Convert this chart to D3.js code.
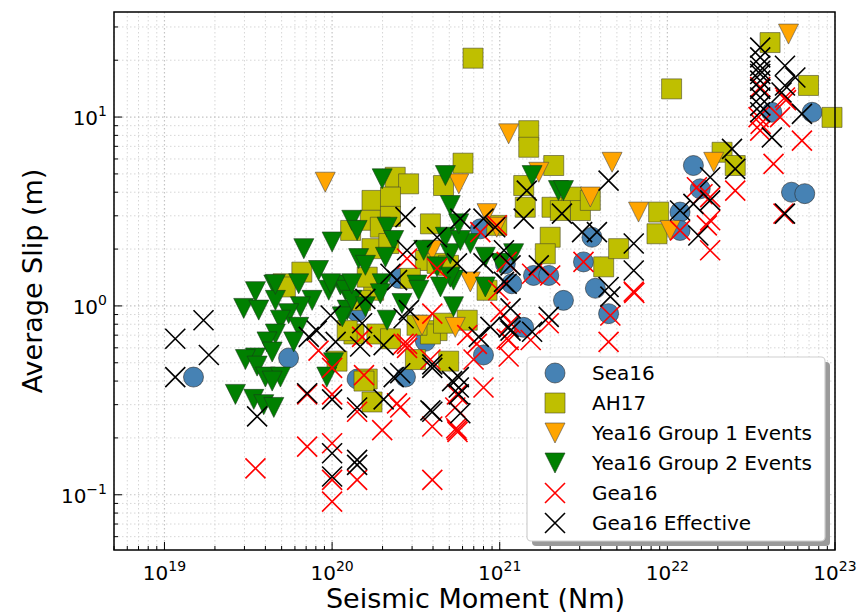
<!DOCTYPE html>
<html>
<head>
<meta charset="utf-8">
<script src="https://cdn.jsdelivr.net/npm/d3@7"></script>
<style>
  body { margin: 0; background: #fff; }
  svg { font-family: "DejaVu Sans", sans-serif; }
</style>
</head>
<body>
<div class="canvas"></div>
<script>
// [seismic moment (Nm), average slip (m)]
const sea16 = [
  [1.49e19, 0.42], [5.5e19, 0.53], [1.41e20, 0.41], [1.41e20, 0.93], [2.5e20, 1.40],
  [2.74e20, 0.42], [3.6e20, 0.65], [7.66e20, 2.56], [8.0e20, 0.55], [1.08e21, 1.67],
  [1.18e21, 1.31], [1.39e21, 0.77], [1.59e21, 1.45], [1.96e21, 1.45], [2.4e21, 1.07],
  [3.16e21, 1.71], [3.55e21, 2.31], [3.72e21, 1.24], [4.46e21, 0.91], [1.19e22, 3.14],
  [1.19e22, 2.51], [1.43e22, 5.54], [1.57e22, 4.17], [4.2e22, 10.6], [5.5e22, 4.0],
  [6.6e22, 3.93], [7.3e22, 10.6]
];

const ah17 = [
  [6.93e20, 20.5], [6.04e20, 5.7], [2.38e20, 4.8], [2.86e20, 4.43], [4.62e20, 4.34],
  [1.73e20, 3.62], [2.23e20, 3.77], [3.86e20, 2.72], [1.29e20, 2.51], [1.73e20, 2.01],
  [6.6e19, 1.51], [5.1e19, 1.31], [2.23e20, 2.98], [9.6e20, 2.67], [1.49e21, 8.47],
  [1.49e21, 6.92], [2.1e21, 5.54], [1.39e21, 4.34], [1.42e21, 3.33], [2.05e21, 3.33],
  [2.7e21, 3.77], [3.03e21, 3.2], [3.47e21, 3.62], [2.3e21, 3.2], [2.0e21, 2.31],
  [1.87e21, 1.89], [4.17e21, 1.61], [5.12e21, 2.01], [8.87e21, 3.14], [8.67e21, 2.41],
  [1.06e22, 14.1], [4.1e22, 24.8], [6.95e22, 14.7], [9.6e22, 9.96], [2.12e22, 6.51],
  [2.54e22, 5.54], [1.77e20, 1.21], [3.14e20, 0.52], [4.96e20, 0.51], [1.62e20, 0.41],
  [1.73e20, 0.31], [4.23e20, 0.74], [5.26e19, 1.26], [1.35e20, 0.71], [1.07e20, 0.51],
  [1.23e20, 0.74], [3.86e20, 0.71], [6.4e20, 0.84], [8.4e20, 1.21], [1.69e20, 2.84],
  [1.94e20, 2.61], [2.18e20, 2.14], [3.6e20, 1.74], [4.23e20, 1.68], [4.95e20, 1.64],
  [2.93e20, 1.40], [1.48e20, 1.07], [1.85e20, 0.71], [2.23e20, 0.67], [3.21e20, 0.79],
  [4.62e20, 0.81], [1.55e20, 0.40], [1.62e20, 1.42]
];

const yea16g1 = [
  [9.1e19, 4.52], [5.7e20, 4.43], [1.13e21, 8.15], [1.71e21, 5.1], [4.68e21, 5.76],
  [3.47e21, 3.77], [6.73e21, 3.14], [1.04e22, 2.51], [1.89e22, 5.76], [5.28e22, 27.5],
  [8.4e20, 3.08], [9.6e20, 2.61], [3.96e20, 1.97], [6.68e20, 1.34], [3.44e20, 0.79],
  [5.43e20, 0.77]
];

const yea16g2 = [
  [1.99e20, 4.71], [4.74e20, 4.9], [5.07e20, 3.4], [1.31e20, 2.84], [1.41e20, 2.51],
  [2.13e20, 2.61], [1.0e20, 2.18], [6.78e19, 2.01], [1.44e20, 1.78], [2.33e20, 2.22],
  [8.3e19, 1.54], [4.49e19, 1.29], [6.32e19, 1.31], [1.12e20, 1.29], [1.99e20, 1.31],
  [3.52e20, 1.97], [5.07e20, 1.89], [6.68e20, 2.14], [8.2e20, 1.81], [3.21e20, 1.29],
  [5.3e20, 1.37], [3.49e19, 1.19], [1.56e21, 4.9], [2.24e21, 4.08], [2.4e21, 4.08],
  [1.21e21, 1.89], [2.08e20, 1.81], [4.74e20, 2.31], [5.82e20, 2.22], [5.07e20, 1.42],
  [4.23e20, 1.61], [1.58e20, 1.64], [5.69e20, 2.72], [1.01e21, 1.68], [2.97e19, 0.97],
  [3.65e19, 0.95], [4.59e19, 1.07], [7.6e19, 1.07], [9.55e19, 1.21], [1.2e20, 1.21],
  [6.47e19, 0.99], [5.51e19, 0.91], [1.23e20, 0.95], [4.92e19, 0.84], [6.32e19, 0.77],
  [4.59e19, 0.71], [5.9e19, 0.645], [4.09e19, 0.645], [4.39e19, 0.57], [3.49e19, 0.53],
  [3.04e19, 0.52], [3.57e19, 0.48], [4.0e19, 0.42], [4.92e19, 0.42], [4.39e19, 0.40],
  [9.3e19, 0.42], [1.02e20, 0.50], [2.65e19, 0.34], [3.41e19, 0.32], [3.91e19, 0.30],
  [4.49e19, 0.29], [1.15e20, 0.875], [1.31e20, 1.07], [9.8e19, 1.31], [1.31e20, 1.31],
  [1.94e20, 1.16], [2.61e20, 1.03], [2.13e20, 0.84], [3.29e20, 1.21], [4.43e20, 1.26],
  [5.3e20, 0.99], [8.2e20, 1.26], [1.58e20, 0.99], [4.59e19, 1.30]
];

const gea16 = [
  [3.49e19, 0.138], [7.1e19, 0.18], [1.0e20, 0.1875], [1.0e20, 0.12], [1.0e20, 0.092],
  [1.41e20, 0.12], [3.96e20, 0.12], [1.99e20, 0.22], [3.96e20, 0.23], [5.56e20, 0.22],
  [5.6e20, 0.215], [5.5e20, 0.225], [7.1e19, 0.34], [1.41e20, 0.275], [2.55e20, 0.29],
  [8.0e20, 0.37], [1.13e21, 0.54], [1.13e21, 0.66], [1.0e20, 0.47], [8.3e19, 0.58],
  [1.55e20, 0.43], [3.86e20, 0.52], [5.56e20, 0.34], [6.98e20, 0.52], [2.67e20, 0.63],
  [1.0e20, 0.34], [1.51e20, 0.686], [2.8e20, 0.63], [2.8e20, 0.60], [2.44e20, 0.305],
  [5.43e20, 0.29], [1.01e21, 0.93], [3.96e20, 0.91], [7.3e20, 0.63], [6.4e20, 0.70],
  [2.8e20, 1.78], [4.23e20, 1.58], [7.66e20, 2.46], [9.6e20, 2.67], [1.1e21, 1.71],
  [9.8e20, 1.21], [1.56e21, 1.48], [2.0e21, 1.45], [1.16e21, 0.81], [1.1e21, 0.67],
  [1.53e21, 0.66], [1.96e21, 0.81], [3.16e21, 1.71], [4.57e21, 0.89], [4.46e21, 0.645],
  [6.3e21, 1.19], [6.35e21, 1.17], [1.5e22, 4.25], [1.8e22, 3.77], [2.54e22, 4.08],
  [1.8e22, 2.84], [1.8e22, 1.97], [1.19e22, 2.51], [3.58e22, 8.47], [3.58e22, 14.4],
  [5.03e22, 12.7], [5.1e22, 12.3], [4.7e22, 10.0], [6.35e22, 7.5], [4.3e22, 5.65],
  [4.93e22, 3.08], [3.5e22, 10.0], [3.6e22, 9.2], [1.62e22, 3.9], [1.72e22, 2.67]
];

const gea16eff = [
  [1.16e19, 0.67], [1.71e19, 0.84], [1.84e19, 0.55], [1.16e19, 0.42], [3.57e19, 0.26],
  [7.1e19, 0.345], [1.0e20, 0.32], [1.41e20, 0.29], [1.0e20, 0.166], [1.0e20, 0.125],
  [1.41e20, 0.153], [1.41e20, 0.144], [3.96e20, 0.275], [5.82e20, 0.27], [5.7e20, 0.37],
  [5.7e20, 0.42], [3.96e20, 0.47], [2.55e20, 0.44], [2.03e20, 0.32], [1.13e21, 0.77],
  [9.8e19, 0.89], [8.1e19, 0.74], [7.26e19, 0.686], [1.05e20, 0.645], [1.51e20, 0.81],
  [1.47e20, 0.61], [1.58e20, 1.09], [2.03e20, 0.62], [2.67e20, 0.86], [2.87e20, 0.95],
  [3.96e20, 0.49], [5.2e20, 0.40], [5.7e20, 0.34], [7.5e20, 0.686], [8.8e20, 0.775],
  [3.86e20, 0.28], [2.33e20, 0.42], [1.1e21, 1.31], [2.74e20, 2.95], [5.82e20, 2.9],
  [8.0e20, 2.9], [9.4e20, 2.61], [4.23e20, 2.31], [2.8e20, 1.97], [5.56e20, 1.68],
  [8.0e20, 1.68], [2.44e20, 1.37], [1.45e21, 4.08], [1.39e21, 2.9], [4.46e21, 4.61],
  [2.35e21, 3.08], [3.1e21, 2.46], [3.8e21, 2.46], [6.3e21, 2.14], [6.3e21, 1.54],
  [4.46e21, 1.26], [4.57e21, 1.12], [1.06e21, 1.97], [1.16e21, 1.64], [1.06e21, 1.34],
  [1.71e21, 1.64], [1.96e21, 0.875], [1.16e21, 0.97], [1.16e21, 0.74], [1.56e21, 0.73],
  [1.19e22, 3.2], [1.43e22, 3.47], [1.8e22, 4.8], [2.43e22, 6.78], [2.54e22, 5.32],
  [1.8e22, 3.62], [1.53e22, 2.36], [3.58e22, 23.3], [3.58e22, 20.7], [3.58e22, 18.7],
  [3.58e22, 17.6], [3.58e22, 16.9], [3.58e22, 15.6], [3.58e22, 14.1], [3.58e22, 12.7],
  [3.58e22, 11.5], [3.58e22, 10.6], [5.03e22, 18.7], [5.03e22, 14.7], [4.8e22, 13.5],
  [4.2e22, 7.8], [6.35e22, 10.4], [5.03e22, 3.08], [2.23e20, 1.48], [5.8e22, 16.2]
];

const seriesNames = ["Sea16", "AH17", "Yea16 Group 1 Events", "Yea16 Group 2 Events", "Gea16", "Gea16 Effective"];
const xTickExps = [19, 20, 21, 22, 23];
const yTickExps = [-1, 0, 1];

const W = 865, H = 615;
const plot = { left: 114, right: 835, top: 12, bottom: 550 };

const x = d3.scaleLog().domain([5e18, 1e23]).range([plot.left, plot.right]);
const y = d3.scaleLog().domain([0.051, 36]).range([plot.bottom, plot.top]);

const svg = d3.select(".canvas").append("svg").attr("width", W).attr("height", H);

// grid, minor then major
const xMinor = [], yMinor = [];
for (let e = 18; e <= 22; e++) for (let m = 2; m <= 9; m++) {
  const v = m * Math.pow(10, e);
  if (v >= 5e18 && v <= 1e23) xMinor.push(v);
}
for (let e = -2; e <= 1; e++) for (let m = 2; m <= 9; m++) {
  const v = m * Math.pow(10, e);
  if (v >= 0.051 && v <= 36) yMinor.push(v);
}
const xMajor = xTickExps.map(e => Math.pow(10, e));
const yMajor = yTickExps.map(e => Math.pow(10, e));

const grid = svg.append("g").attr("fill", "none");
grid.selectAll(".gxm").data(xMinor).enter().append("line")
  .attr("x1", d => x(d)).attr("x2", d => x(d)).attr("y1", plot.top).attr("y2", plot.bottom)
  .attr("stroke", "#d6d6d6").attr("stroke-width", 1).attr("stroke-dasharray", "1.5,2.5");
grid.selectAll(".gym").data(yMinor).enter().append("line")
  .attr("y1", d => y(d)).attr("y2", d => y(d)).attr("x1", plot.left).attr("x2", plot.right)
  .attr("stroke", "#d6d6d6").attr("stroke-width", 1).attr("stroke-dasharray", "1.5,2.5");
grid.selectAll(".gxM").data(xMajor).enter().append("line")
  .attr("x1", d => x(d)).attr("x2", d => x(d)).attr("y1", plot.top).attr("y2", plot.bottom)
  .attr("stroke", "#c4c4c4").attr("stroke-width", 1.2).attr("stroke-dasharray", "1.5,2.5");
grid.selectAll(".gyM").data(yMajor).enter().append("line")
  .attr("y1", d => y(d)).attr("y2", d => y(d)).attr("x1", plot.left).attr("x2", plot.right)
  .attr("stroke", "#c4c4c4").attr("stroke-width", 1.2).attr("stroke-dasharray", "1.5,2.5");

// marker shapes
const S = 10;
const shapes = {
  circle: () => d3.symbol().type(d3.symbolCircle).size(Math.PI * S * S)(),
  square: () => `M${-S},${-S}H${S}V${S}H${-S}Z`,
  tri: () => `M${-S},${-S}L${S},${-S}L0,${S}Z`,
  cross: () => `M${-S},${-S}L${S},${S}M${-S},${S}L${S},${-S}`
};

const styles = [
  { data: sea16, shape: "circle", fill: "#4682B4", stroke: "#2a2a2a", sw: 0.6 },
  { data: ah17, shape: "square", fill: "#BFBF00", stroke: "#4a4a2a", sw: 0.6 },
  { data: yea16g1, shape: "tri", fill: "#FFA500", stroke: "#4a4a4a", sw: 0.6 },
  { data: yea16g2, shape: "tri", fill: "#008000", stroke: "#1a3a1a", sw: 0.6 },
  { data: gea16, shape: "cross", fill: "none", stroke: "#FF0000", sw: 1.6 },
  { data: gea16eff, shape: "cross", fill: "none", stroke: "#000000", sw: 1.6 }
];

const marks = svg.append("g");
styles.forEach(st => {
  marks.append("g").selectAll("path").data(st.data).enter().append("path")
    .attr("d", shapes[st.shape]())
    .attr("transform", d => `translate(${x(d[0])},${y(d[1])})`)
    .attr("fill", st.fill).attr("stroke", st.stroke).attr("stroke-width", st.sw);
});

// frame
svg.append("rect").attr("x", plot.left).attr("y", plot.top)
  .attr("width", plot.right - plot.left).attr("height", plot.bottom - plot.top)
  .attr("fill", "none").attr("stroke", "#000").attr("stroke-width", 1.5);

// ticks (inward)
const tk = svg.append("g").attr("stroke", "#000").attr("stroke-width", 1);
tk.selectAll(".xmin").data(xMinor).enter().append("line")
  .attr("x1", d => x(d)).attr("x2", d => x(d)).attr("y1", plot.bottom).attr("y2", plot.bottom - 4);
tk.selectAll(".xmaj").data(xMajor).enter().append("line")
  .attr("x1", d => x(d)).attr("x2", d => x(d)).attr("y1", plot.bottom).attr("y2", plot.bottom - 8);
tk.selectAll(".ymin").data(yMinor).enter().append("line")
  .attr("y1", d => y(d)).attr("y2", d => y(d)).attr("x1", plot.left).attr("x2", plot.left + 4);
tk.selectAll(".ymaj").data(yMajor).enter().append("line")
  .attr("y1", d => y(d)).attr("y2", d => y(d)).attr("x1", plot.left).attr("x2", plot.left + 8);

// tick labels
const xl = svg.append("g").selectAll("text").data(xTickExps).enter().append("text")
  .attr("x", d => x(Math.pow(10, d))).attr("y", 580)
  .attr("text-anchor", "middle").attr("font-size", 20).attr("fill", "#000");
xl.append("tspan").text("10");
xl.append("tspan").attr("dy", -9).attr("font-size", 14).text(d => d);

const yl = svg.append("g").selectAll("text").data(yTickExps).enter().append("text")
  .attr("x", 107).attr("y", d => y(Math.pow(10, d)) + 8)
  .attr("text-anchor", "end").attr("font-size", 20).attr("fill", "#000");
yl.append("tspan").text("10");
yl.append("tspan").attr("dy", -9).attr("font-size", 14).text(d => d < 0 ? "\u2212" + (-d) : d);

// axis labels
svg.append("text").attr("x", (plot.left + plot.right) / 2 + 1).attr("y", 608)
  .attr("text-anchor", "middle").attr("font-size", 27).text("Seismic Moment (Nm)");
svg.append("text").attr("transform", `translate(42,${(plot.top + plot.bottom) / 2}) rotate(-90)`)
  .attr("text-anchor", "middle").attr("font-size", 27).text("Average Slip (m)");

// legend
const lg = svg.append("g");
lg.append("rect").attr("x", 532).attr("y", 362).attr("width", 298).attr("height", 184)
  .attr("rx", 4).attr("fill", "#9a9a9a");
lg.append("rect").attr("x", 527).attr("y", 357).attr("width", 298).attr("height", 184)
  .attr("rx", 4).attr("fill", "#fff").attr("stroke", "#cfcfcf").attr("stroke-width", 1.2);
styles.forEach((st, i) => {
  const cy = 373 + i * 30;
  lg.append("path").attr("d", shapes[st.shape]())
    .attr("transform", `translate(555,${cy})`)
    .attr("fill", st.fill).attr("stroke", st.stroke).attr("stroke-width", st.sw);
  lg.append("text").attr("x", 592).attr("y", cy + 7).attr("font-size", 20)
    .attr("fill", "#000").text(seriesNames[i]);
});
</script>
</body>
</html>
